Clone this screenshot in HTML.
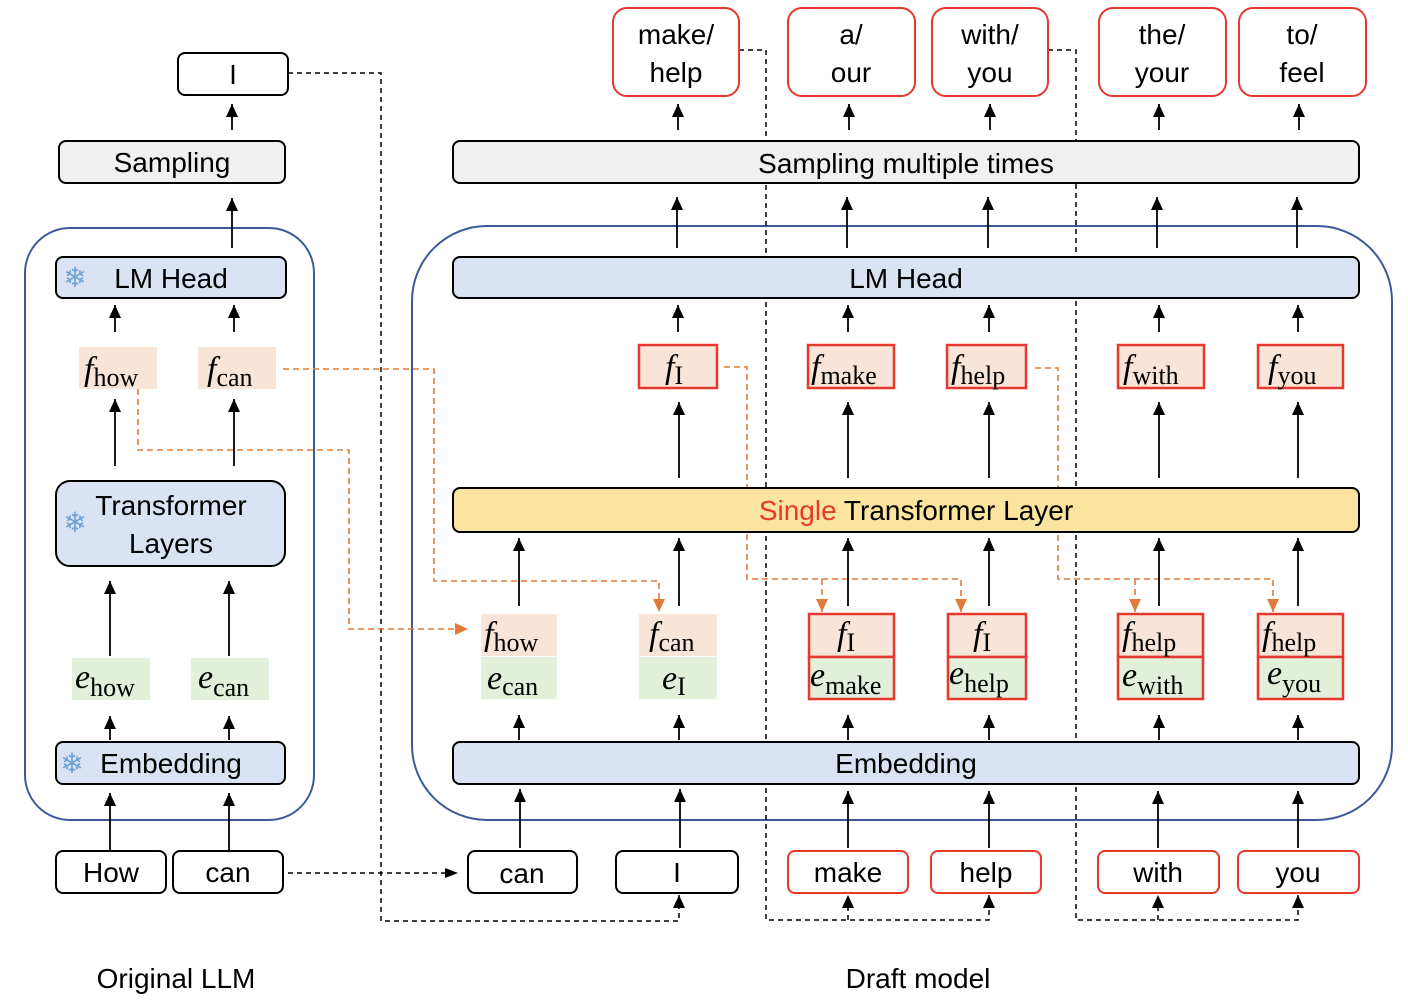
<!DOCTYPE html>
<html><head><meta charset="utf-8"><style>
html,body{margin:0;padding:0;background:#fff;}
svg{display:block;}
text{font-family:"Liberation Sans",sans-serif;fill:#000;}
.m{font-family:"Liberation Serif",serif;}
</style></head><body>
<svg width="1408" height="1008" viewBox="0 0 1408 1008" xmlns="http://www.w3.org/2000/svg">
<defs>
<marker id="a" markerWidth="14" markerHeight="14" refX="13" refY="6" orient="auto" markerUnits="userSpaceOnUse"><path d="M0,0 L13,6 L0,12 z" fill="#000"/></marker>
<marker id="ak" markerWidth="14" markerHeight="14" refX="13" refY="6" orient="auto" markerUnits="userSpaceOnUse"><path d="M0,1 L13,6 L0,11 z" fill="#000"/></marker>
<marker id="o" markerWidth="14" markerHeight="14" refX="13" refY="7" orient="auto" markerUnits="userSpaceOnUse"><path d="M0,1 L13,7 L0,13 z" fill="#e07b39"/></marker>
</defs>

<rect x="25" y="228" width="289" height="592" rx="45" fill="none" stroke="#3c5a9a" stroke-width="2"/>
<rect x="412" y="226" width="980" height="594" rx="75" fill="none" stroke="#3c5a9a" stroke-width="2"/>

<g fill="none" stroke="#000" stroke-width="1.5" stroke-dasharray="5,4">
<path d="M288,73 H381 V921 H679 V895" marker-end="url(#a)"/>
<path d="M739,50 H766 V920 H989 V895" marker-end="url(#a)"/>
<path d="M848,920 V895" marker-end="url(#a)"/>
<path d="M1048,50 H1076 V920 H1298 V895" marker-end="url(#a)"/>
<path d="M1158,920 V895" marker-end="url(#a)"/>
<path d="M288,873 H458" marker-end="url(#ak)"/>
</g>

<g fill="none" stroke="#e07b39" stroke-width="1.6" stroke-dasharray="6,4">
<path d="M283,369 H434 V581 H659 V612" marker-end="url(#o)"/>
<path d="M138,389 V450 H349 V629 H468" marker-end="url(#o)"/>
<path d="M724,367 H747 V579 H961 V612" marker-end="url(#o)"/>
<path d="M822,579 V612" marker-end="url(#o)"/>
<path d="M1035,368 H1058 V579 H1273 V612" marker-end="url(#o)"/>
<path d="M1135,579 V612" marker-end="url(#o)"/>
</g>

<g stroke="#000" stroke-width="1.8" marker-end="url(#a)">
<line x1="232" y1="130" x2="232" y2="104"/>
<line x1="232" y1="248" x2="232" y2="198"/>
<line x1="115" y1="332" x2="115" y2="305"/><line x1="234" y1="332" x2="234" y2="305"/>
<line x1="115" y1="466" x2="115" y2="399"/><line x1="234" y1="466" x2="234" y2="399"/>
<line x1="110" y1="656" x2="110" y2="581"/><line x1="229" y1="656" x2="229" y2="581"/>
<line x1="110" y1="740" x2="110" y2="716"/><line x1="229" y1="740" x2="229" y2="716"/>
<line x1="110" y1="850" x2="110" y2="793"/><line x1="229" y1="850" x2="229" y2="793"/>
<line x1="678" y1="130" x2="678" y2="104"/><line x1="849" y1="130" x2="849" y2="104"/><line x1="990" y1="130" x2="990" y2="104"/><line x1="1159" y1="130" x2="1159" y2="104"/><line x1="1299" y1="130" x2="1299" y2="104"/>
<line x1="677" y1="248" x2="677" y2="197"/><line x1="847" y1="248" x2="847" y2="197"/><line x1="988" y1="248" x2="988" y2="197"/><line x1="1157" y1="248" x2="1157" y2="197"/><line x1="1297" y1="248" x2="1297" y2="197"/>
<line x1="678" y1="332" x2="678" y2="305"/><line x1="848" y1="332" x2="848" y2="305"/><line x1="989" y1="332" x2="989" y2="305"/><line x1="1159" y1="332" x2="1159" y2="305"/><line x1="1298" y1="332" x2="1298" y2="305"/>
<line x1="679" y1="478" x2="679" y2="402"/><line x1="848" y1="478" x2="848" y2="402"/><line x1="989" y1="478" x2="989" y2="402"/><line x1="1159" y1="478" x2="1159" y2="402"/><line x1="1298" y1="478" x2="1298" y2="402"/>
<line x1="519" y1="606" x2="519" y2="538"/><line x1="679" y1="606" x2="679" y2="538"/><line x1="848" y1="606" x2="848" y2="538"/><line x1="989" y1="606" x2="989" y2="538"/><line x1="1159" y1="606" x2="1159" y2="538"/><line x1="1298" y1="606" x2="1298" y2="538"/>
<line x1="519" y1="740" x2="519" y2="715"/><line x1="679" y1="740" x2="679" y2="715"/><line x1="848" y1="740" x2="848" y2="715"/><line x1="989" y1="740" x2="989" y2="715"/><line x1="1159" y1="740" x2="1159" y2="715"/><line x1="1298" y1="740" x2="1298" y2="715"/>
<line x1="520" y1="848" x2="520" y2="789"/><line x1="680" y1="848" x2="680" y2="789"/><line x1="848" y1="848" x2="848" y2="791"/><line x1="989" y1="848" x2="989" y2="791"/><line x1="1158" y1="848" x2="1158" y2="791"/><line x1="1298" y1="848" x2="1298" y2="791"/>
</g>

<g stroke="#000" stroke-width="2">
<rect x="178" y="53" width="110" height="42" rx="7" fill="#fff"/>
<rect x="59" y="141" width="226" height="42" rx="7" fill="#f0f0f0"/>
<rect x="56" y="257" width="230" height="41" rx="7" fill="#dae3f3"/>
<rect x="56" y="481" width="229" height="85" rx="14" fill="#dae3f3"/>
<rect x="56" y="742" width="229" height="42" rx="7" fill="#dae3f3"/>
<rect x="56" y="851" width="110" height="42" rx="7" fill="#fff"/>
<rect x="173" y="851" width="110" height="42" rx="7" fill="#fff"/>
</g>
<rect x="79" y="347" width="78" height="42" fill="#f8e5d8"/>
<rect x="198" y="347" width="78" height="42" fill="#f8e5d8"/>
<rect x="72" y="658" width="78" height="42" fill="#e2efd9"/>
<rect x="191" y="658" width="78" height="42" fill="#e2efd9"/>

<g font-size="28" text-anchor="middle">
<text x="233" y="84">I</text>
<text x="172" y="172">Sampling</text>
<text x="171" y="288">LM Head</text>
<text x="171" y="515">Transformer</text>
<text x="171" y="553">Layers</text>
<text x="171" y="773">Embedding</text>
<text x="111" y="882">How</text>
<text x="228" y="882">can</text>
<text x="176" y="988">Original LLM</text>
<text x="918" y="988">Draft model</text>
</g>
<g font-size="28" text-anchor="middle">
<text x="75" y="287" style="fill:#6fa3d6">❄</text>
<text x="75" y="532" style="fill:#6fa3d6">❄</text>
<text x="72" y="773" style="fill:#6fa3d6">❄</text>
<text x="740" y="287" style="fill:#6fa3d6">❄</text>
<text x="740" y="773" style="fill:#6fa3d6">❄</text>
</g>

<g stroke="#000" stroke-width="2">
<rect x="453" y="141" width="906" height="42" rx="7" fill="#f0f0f0"/>
<rect x="453" y="257" width="906" height="41" rx="7" fill="#dae3f3"/>
<rect x="453" y="488" width="906" height="44" rx="7" fill="#fbe49d"/>
<rect x="453" y="742" width="906" height="42" rx="7" fill="#dae3f3"/>
<rect x="468" y="851" width="109" height="42" rx="7" fill="#fff"/>
<rect x="616" y="851" width="122" height="42" rx="7" fill="#fff"/>
</g>
<g stroke="#e8382e" stroke-width="2" fill="#fff">
<rect x="613" y="8" width="126" height="88" rx="14"/>
<rect x="788" y="8" width="127" height="88" rx="14"/>
<rect x="932" y="8" width="116" height="88" rx="14"/>
<rect x="1099" y="8" width="127" height="88" rx="14"/>
<rect x="1239" y="8" width="127" height="88" rx="14"/>
<rect x="788" y="851" width="120" height="42" rx="7"/>
<rect x="931" y="851" width="110" height="42" rx="7"/>
<rect x="1098" y="851" width="121" height="42" rx="7"/>
<rect x="1238" y="851" width="121" height="42" rx="7"/>
</g>
<g stroke="#e8382e" stroke-width="2.5" fill="#f8e5d8">
<rect x="639" y="345" width="78" height="43"/>
<rect x="808" y="345" width="86" height="43"/>
<rect x="947" y="345" width="79" height="43"/>
<rect x="1118" y="345" width="86" height="43"/>
<rect x="1258" y="345" width="85" height="43"/>
<rect x="809" y="614" width="85" height="43"/>
<rect x="948" y="614" width="78" height="43"/>
<rect x="1118" y="614" width="85" height="43"/>
<rect x="1258" y="614" width="85" height="43"/>
</g>
<g stroke="#e8382e" stroke-width="2.5" fill="#e2efd9">
<rect x="809" y="657" width="85" height="42"/>
<rect x="948" y="657" width="78" height="42"/>
<rect x="1118" y="657" width="85" height="42"/>
<rect x="1258" y="657" width="85" height="42"/>
</g>
<rect x="481" y="614" width="76" height="42" fill="#f8e5d8"/>
<rect x="481" y="657" width="76" height="42" fill="#e2efd9"/>
<rect x="639" y="614" width="78" height="42" fill="#f8e5d8"/>
<rect x="639" y="657" width="78" height="42" fill="#e2efd9"/>

<g font-size="28" text-anchor="middle">
<text x="676" y="44">make/</text><text x="676" y="82">help</text>
<text x="851" y="44">a/</text><text x="851" y="82">our</text>
<text x="990" y="44">with/</text><text x="990" y="82">you</text>
<text x="1162" y="44">the/</text><text x="1162" y="82">your</text>
<text x="1302" y="44">to/</text><text x="1302" y="82">feel</text>
<text x="906" y="173">Sampling multiple times</text>
<text x="916" y="520"><tspan style="fill:#e8382e">Single</tspan> Transformer Layer</text>
<text x="906" y="288">LM Head</text>
<text x="906" y="773">Embedding</text>
<text x="522" y="883">can</text>
<text x="677" y="882">I</text>
<text x="848" y="882">make</text>
<text x="986" y="882">help</text>
<text x="1158" y="882">with</text>
<text x="1298" y="882">you</text>
</g>

<g class="m" font-size="34" font-style="italic">
<text x="84" y="380" class="m">f<tspan font-style="normal" font-size="26" dy="6">how</tspan></text>
<text x="207" y="380" class="m">f<tspan font-style="normal" font-size="26" dy="6">can</tspan></text>
<text x="75" y="688" class="m">e<tspan font-style="normal" font-size="26" dy="8">how</tspan></text>
<text x="198" y="688" class="m">e<tspan font-style="normal" font-size="26" dy="8">can</tspan></text>
<text x="665" y="378" class="m">f<tspan font-style="normal" font-size="26" dy="6">I</tspan></text>
<text x="811" y="378" class="m">f<tspan font-style="normal" font-size="26" dy="6">make</tspan></text>
<text x="951" y="378" class="m">f<tspan font-style="normal" font-size="26" dy="6">help</tspan></text>
<text x="1123" y="378" class="m">f<tspan font-style="normal" font-size="26" dy="6">with</tspan></text>
<text x="1268" y="378" class="m">f<tspan font-style="normal" font-size="26" dy="6">you</tspan></text>
<text x="484" y="645" class="m">f<tspan font-style="normal" font-size="26" dy="6">how</tspan></text>
<text x="649" y="645" class="m">f<tspan font-style="normal" font-size="26" dy="6">can</tspan></text>
<text x="837" y="645" class="m">f<tspan font-style="normal" font-size="26" dy="6">I</tspan></text>
<text x="973" y="645" class="m">f<tspan font-style="normal" font-size="26" dy="6">I</tspan></text>
<text x="1122" y="645" class="m">f<tspan font-style="normal" font-size="26" dy="6">help</tspan></text>
<text x="1262" y="645" class="m">f<tspan font-style="normal" font-size="26" dy="6">help</tspan></text>
<text x="487" y="689" class="m">e<tspan font-style="normal" font-size="26" dy="6">can</tspan></text>
<text x="662" y="689" class="m">e<tspan font-style="normal" font-size="26" dy="6">I</tspan></text>
<text x="810" y="686" class="m">e<tspan font-style="normal" font-size="26" dy="8">make</tspan></text>
<text x="949" y="684" class="m">e<tspan font-style="normal" font-size="26" dy="8">help</tspan></text>
<text x="1122" y="686" class="m">e<tspan font-style="normal" font-size="26" dy="8">with</tspan></text>
<text x="1267" y="684" class="m">e<tspan font-style="normal" font-size="26" dy="8">you</tspan></text>
</g>
</svg>
</body></html>
